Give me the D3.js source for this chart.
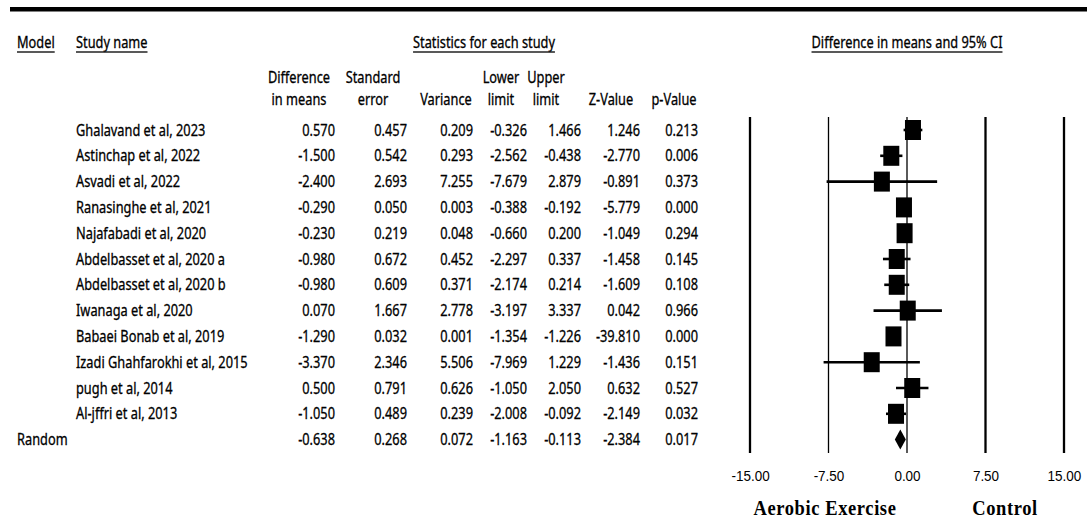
<!DOCTYPE html>
<html>
<head>
<meta charset="utf-8">
<script src="https://cdn.jsdelivr.net/npm/d3@7"></script>
<style>
  html, body { margin: 0; padding: 0; background: #fff; }
  svg { display: block; }
</style>
</head>
<body>
<script>
// ---- Study data ----
const studies = [
  "Ghalavand et al, 2023",
  "Astinchap et al, 2022",
  "Asvadi et al, 2022",
  "Ranasinghe et al, 2021",
  "Najafabadi et al, 2020",
  "Abdelbasset et al, 2020 a",
  "Abdelbasset et al, 2020 b",
  "Iwanaga et al, 2020",
  "Babaei Bonab et al, 2019",
  "Izadi Ghahfarokhi et al, 2015",
  "pugh et al, 2014",
  "Al-jffri et al, 2013"
];
const diffMeans  = [0.570, -1.500, -2.400, -0.290, -0.230, -0.980, -0.980, 0.070, -1.290, -3.370, 0.500, -1.050];
const stdErr     = [0.457, 0.542, 2.693, 0.050, 0.219, 0.672, 0.609, 1.667, 0.032, 2.346, 0.791, 0.489];
const variance   = [0.209, 0.293, 7.255, 0.003, 0.048, 0.452, 0.371, 2.778, 0.001, 5.506, 0.626, 0.239];
const lowerLimit = [-0.326, -2.562, -7.679, -0.388, -0.660, -2.297, -2.174, -3.197, -1.354, -7.969, -1.050, -2.008];
const upperLimit = [1.466, -0.438, 2.879, -0.192, 0.200, 0.337, 0.214, 3.337, -1.226, 1.229, 2.050, -0.092];
const zValue     = [1.246, -2.770, -0.891, -5.779, -1.049, -1.458, -1.609, 0.042, -39.810, -1.436, 0.632, -2.149];
const pValue     = [0.213, 0.006, 0.373, 0.000, 0.294, 0.145, 0.108, 0.966, 0.000, 0.151, 0.527, 0.032];

// Pooled (random-effects) result
const summaryModel = "Random";
const summaryStats = [-0.638, 0.268, 0.072, -1.163, -0.113, -2.384, 0.017];

// Axis
const axisTicks = [-15, -7.5, 0, 7.5, 15];
const favourLeft = "Aerobic Exercise";
const favourRight = "Control";

// Table headers
const columnHeads = [
  ["Difference", "in means"],
  ["Standard", "error"],
  ["", "Variance"],
  ["Lower", "limit"],
  ["Upper", "limit"],
  ["", "Z-Value"],
  ["", "p-Value"]
];

// ---- Layout ----
const W = 1087, H = 521;
const SANS = "'Noto Sans', 'Open Sans', sans-serif";
const FS = 12.8, SY = 1.2;

const svg = d3.select("body").append("svg")
  .attr("width", W).attr("height", H)
  .attr("viewBox", `0 0 ${W} ${H}`);
svg.append("rect").attr("width", W).attr("height", H).attr("fill", "#fff");

// heavy rule at the top
svg.append("rect").attr("x", 10).attr("y", 7).attr("width", W - 10).attr("height", 4.5).attr("fill", "#000");

// text helper: slightly stretched vertically
function label(parent, x, y, s, anchor = "start", size = FS, sy = SY, family = SANS, weight = "normal") {
  return parent.append("text")
    .attr("transform", `translate(${x},${y}) scale(1,${sy})`)
    .attr("dy", "0.36em")
    .attr("text-anchor", anchor)
    .attr("font-family", family)
    .attr("font-size", size)
    .attr("font-weight", weight)
    .attr("fill", "#000")
    .attr("stroke", "#000")
    .attr("stroke-width", 0.25)
    .text(s);
}
function underlined(parent, x, y, s, anchor) {
  const t = label(parent, x, y, s, anchor);
  const w = t.node().getComputedTextLength();
  const x0 = anchor === "middle" ? x - w / 2 : x;
  parent.append("line").attr("x1", x0).attr("x2", x0 + w)
    .attr("y1", y + 10).attr("y2", y + 10)
    .attr("stroke", "#222").attr("stroke-width", 1.4);
}

const g = svg.append("g");

// forest scale
const x = d3.scaleLinear().domain([-15, 15]).range([750, 1064]);

// row positions
const rowLabels = studies.concat([summaryModel]);
const y = d3.scalePoint().domain(d3.range(rowLabels.length)).range([130, 439.6]);

// header row
underlined(g, 17, 42, "Model", "start");
underlined(g, 76, 42, "Study name", "start");
underlined(g, 484, 42, "Statistics for each study", "middle");
underlined(g, x(0), 42, "Difference in means and 95% CI", "middle");

const headCenters = [299, 373, 446, 501, 546, 611, 674];
columnHeads.forEach((h, i) => {
  if (h[0]) label(g, headCenters[i], 77, h[0], "middle");
  label(g, headCenters[i], 99, h[1], "middle");
});

// numeric columns (right aligned)
const colRight = [335, 407, 473, 527, 581, 640, 698];
const fmt = v => v.toFixed(3);

const tableRows = studies.map((s, i) => [diffMeans[i], stdErr[i], variance[i], lowerLimit[i], upperLimit[i], zValue[i], pValue[i]]);

studies.forEach((s, i) => {
  label(g, 76, y(i), s, "start");
  tableRows[i].forEach((v, j) => label(g, colRight[j], y(i), fmt(v), "end"));
});
const sIdx = studies.length;
label(g, 17, y(sIdx), summaryModel, "start");
summaryStats.forEach((v, j) => label(g, colRight[j], y(sIdx), fmt(v), "end"));

// ---- Forest plot ----
const plot = svg.append("g");
const yTop = 117, yBot = 453;
plot.selectAll("line.ref").data(axisTicks).join("line")
  .attr("class", "ref")
  .attr("x1", d => x(d)).attr("x2", d => x(d))
  .attr("y1", yTop).attr("y2", yBot)
  .attr("stroke", "#000")
  .attr("stroke-width", d => (d === 0 || d === -7.5) ? 1.3 : 2.3);

// confidence intervals
plot.selectAll("line.ci").data(studies.map((s, i) => i)).join("line")
  .attr("class", "ci")
  .attr("x1", i => x(lowerLimit[i])).attr("x2", i => x(upperLimit[i]))
  .attr("y1", i => y(i)).attr("y2", i => y(i))
  .attr("stroke", "#000").attr("stroke-width", 2.6);

// point estimates
const bw = 16, bh = 20;
plot.selectAll("rect.pt").data(studies.map((s, i) => i)).join("rect")
  .attr("class", "pt")
  .attr("x", i => x(diffMeans[i]) - bw / 2)
  .attr("y", i => y(i) - bh / 2)
  .attr("width", bw).attr("height", bh)
  .attr("fill", "#000");

// pooled diamond
const [pm, , , pl, pu] = summaryStats;
const yd = y(sIdx);
plot.append("polygon")
  .attr("points", [[x(pl), yd], [x(pm), yd - 10], [x(pu), yd], [x(pm), yd + 10]].map(p => p.join(",")).join(" "))
  .attr("fill", "#000");

// axis tick labels
const axis = d3.axisBottom(x).tickValues(axisTicks).tickFormat(d => d.toFixed(2)).tickSize(0);
const ax = svg.append("g").attr("transform", "translate(0,467)").call(axis);
ax.select(".domain").remove();
ax.selectAll("text")
  .attr("font-family", "'Liberation Sans Narrow', 'Liberation Sans', sans-serif")
  .attr("font-size", 13.5)
  .attr("fill", "#000")
  .attr("y", 0).attr("dy", "0.36em")
  .attr("transform", "translate(0,8) scale(1,1.15)");

// favour labels
const SERIF = "'Liberation Serif', 'Times New Roman', serif";
label(svg, 825, 508, favourLeft, "middle", 18.5, 1.08, SERIF, "bold").attr("letter-spacing", 0.6).attr("stroke-width", 0);
label(svg, 1005, 508, favourRight, "middle", 18.5, 1.08, SERIF, "bold").attr("letter-spacing", 0.6).attr("stroke-width", 0);
</script>
</body>
</html>
